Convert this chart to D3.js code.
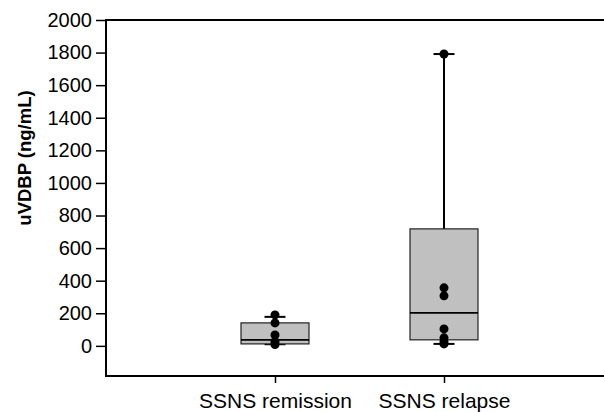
<!DOCTYPE html>
<html>
  <head>
    <meta charset="utf-8">
    <title>uVDBP box plot</title>
    <script src="https://d3js.org/d3.v7.min.js"></script>
    <style>
      body { margin: 0; background: #fff; }
      svg { display: block; font-family: "Liberation Sans", Arial, sans-serif; }
      .axis text { font-size: 20px; fill: #000; }
      .axis line { stroke: #000; stroke-width: 1.5px; }
      .axis path { display: none; }
    </style>
  </head>
  <body>
    <svg id="chart" width="604" height="412"></svg>
    <script>
      // data
      var groups = ["SSNS remission", "SSNS relapse"];
      var whiskerLow = [10, 12];
      var quart1 = [12, 37];
      var medians = [37, 202];
      var quart3 = [141, 718];
      var whiskerHigh = [178, 1791];
      var points = [
        [190, 141, 67, 25, 8],
        [1791, 356, 307, 104, 49, 25, 12]
      ];
      var yTicks = [0, 200, 400, 600, 800, 1000, 1200, 1400, 1600, 1800, 2000];

      var width = 604, height = 412;
      var margin = { top: 20, right: 0, bottom: 36, left: 106 };
      var chart = d3.select("#chart");

      // scales
      x = d3.scalePoint()
        .domain(groups)
        .range([margin.left, 613])
        .padding(1);
      y = d3.scaleLinear()
        .domain([-185, 2000])
        .range([height - margin.bottom, margin.top]);

      var boxWidth = 68, capWidth = 21;

      // frame: left, top and bottom lines
      var frame = chart.append("g").attr("id", "frame")
        .attr("stroke", "#000")
        .attr("stroke-width", 2);
      frame.append("line")
        .attr("x1", margin.left).attr("x2", margin.left)
        .attr("y1", y(2000) - 1).attr("y2", y(-185) + 1);
      frame.append("line")
        .attr("x1", margin.left).attr("x2", width)
        .attr("y1", y(2000)).attr("y2", y(2000));
      frame.append("line")
        .attr("x1", margin.left).attr("x2", width)
        .attr("y1", y(-185)).attr("y2", y(-185));

      // axes
      chart.append("g")
        .attr("class", "axis")
        .attr("transform", "translate(" + margin.left + ",0)")
        .call(d3.axisLeft(y).tickValues(yTicks).tickFormat(d3.format("d")).tickSize(10).tickPadding(4));
      chart.append("g")
        .attr("class", "axis")
        .attr("transform", "translate(0," + y(-185) + ")")
        .call(d3.axisBottom(x).tickSize(7).tickPadding(10))
        .selectAll("text").style("font-size", "21px");

      chart.append("text")
        .attr("transform", "translate(31,158) rotate(-90)")
        .attr("text-anchor", "middle")
        .style("font-size", "18.5px")
        .style("font-weight", "bold")
        .text("uVDBP (ng/mL)");

      // boxes
      var boxes = chart.selectAll(".box")
        .data(groups)
        .enter().append("g")
          .attr("class", "box");
      boxes.append("line")
        .attr("x1", function(d) { return x(d); })
        .attr("x2", function(d) { return x(d); })
        .attr("y1", function(d, i) { return y(whiskerHigh[i]); })
        .attr("y2", function(d, i) { return y(whiskerLow[i]); })
        .attr("stroke", "#000")
        .attr("stroke-width", 2);
      boxes.append("line")
        .attr("x1", function(d) { return x(d) - capWidth / 2; })
        .attr("x2", function(d) { return x(d) + capWidth / 2; })
        .attr("y1", function(d, i) { return y(whiskerHigh[i]); })
        .attr("y2", function(d, i) { return y(whiskerHigh[i]); })
        .attr("stroke", "#000")
        .attr("stroke-width", 2);
      boxes.append("line")
        .attr("x1", function(d) { return x(d) - capWidth / 2; })
        .attr("x2", function(d) { return x(d) + capWidth / 2; })
        .attr("y1", function(d, i) { return y(whiskerLow[i]); })
        .attr("y2", function(d, i) { return y(whiskerLow[i]); })
        .attr("stroke", "#000")
        .attr("stroke-width", 2);
      boxes.append("rect")
        .attr("x", function(d) { return x(d) - boxWidth / 2; })
        .attr("width", boxWidth)
        .attr("y", function(d, i) { return y(quart3[i]); })
        .attr("height", function(d, i) { return y(quart1[i]) - y(quart3[i]); })
        .attr("fill", "#c0c0c0")
        .attr("stroke", "#222")
        .attr("stroke-width", 1.2);
      boxes.append("line")
        .attr("x1", function(d) { return x(d) - boxWidth / 2; })
        .attr("x2", function(d) { return x(d) + boxWidth / 2; })
        .attr("y1", function(d, i) { return y(medians[i]); })
        .attr("y2", function(d, i) { return y(medians[i]); })
        .attr("stroke", "#000")
        .attr("stroke-width", 1.8);

      // individual values
      boxes.selectAll(".dot")
        .data(function(d, i) { return points[i].map(function(v) { return [d, v]; }); })
        .enter().append("circle")
          .attr("class", "dot")
          .attr("cx", function(d) { return x(d[0]); })
          .attr("cy", function(d) { return y(d[1]); })
          .attr("r", 4.5)
          .attr("fill", "#000");
    </script>
  </body>
</html>
